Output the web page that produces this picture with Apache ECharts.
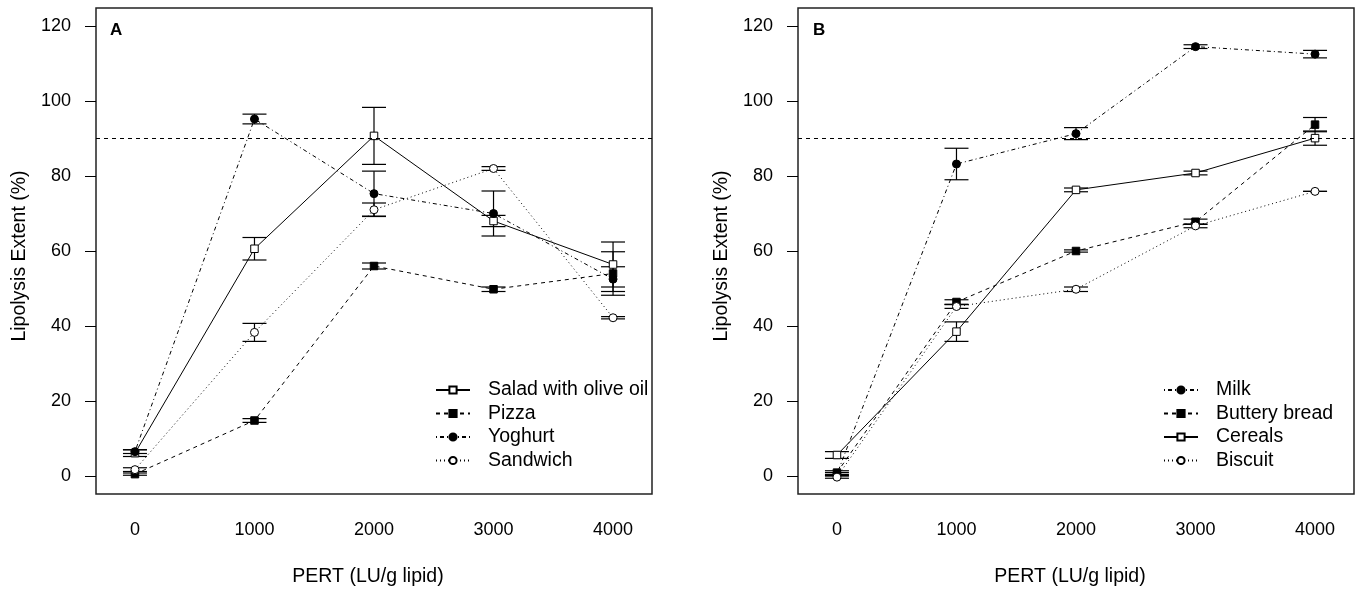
<!DOCTYPE html>
<html>
<head>
<meta charset="utf-8">
<script src="https://cdn.jsdelivr.net/npm/echarts@6/dist/echarts.min.js"></script>
<style>
html,body{margin:0;padding:0;background:#fff;}
#chart{width:1357px;height:592px;}
</style>
</head>
<body>
<div id="chart"></div>
<script>
// ---------- data ----------
const pertLevels = [0, 1000, 2000, 3000, 4000];
const xTickLabels = [0, 1000, 2000, 3000, 4000];
const yTickLabels = [0, 20, 40, 60, 80, 100, 120];
const thresholdLine = 90;

// Panel A
const saladA = [6.1, 60.6, 90.7, 68.0, 56.4];
const saladAErr = [0.9, 3.0, 7.6, 1.5, 6.0];
const pizzaA = [0.5, 14.8, 56.0, 49.8, 54.0];
const pizzaAErr = [0.3, 0.5, 0.8, 0.6, 5.8];
const yoghurtA = [6.5, 95.2, 75.3, 70.0, 52.5];
const yoghurtAErr = [0.5, 1.3, 6.0, 6.0, 3.3];
const sandwichA = [1.7, 38.3, 71.0, 82.0, 42.2];
const sandwichAErr = [0.5, 2.4, 1.8, 0.5, 0.3];

// Panel B
const milkB = [0.5, 83.2, 91.3, 114.5, 112.5];
const milkBErr = [0.4, 4.2, 1.6, 0.5, 1.0];
const butteryB = [0.9, 46.4, 60.0, 67.8, 93.7];
const butteryBErr = [0.5, 0.6, 0.3, 0.7, 1.9];
const cerealsB = [5.6, 38.5, 76.3, 80.8, 90.1];
const cerealsBErr = [0.9, 2.6, 0.5, 0.5, 1.9];
const biscuitB = [-0.3, 45.2, 49.8, 66.7, 75.9];
const biscuitBErr = [0.3, 0.5, 0.6, 0.5, 0.0];

// ---------- helpers ----------
const FONT = 'Liberation Sans';
const STYLE = {
  solid:  'solid',
  dashed: [4, 4],
  dotdash:[1, 3, 4, 3],
  dotted: [1, 3]
};
function pts(vals) { return vals.map((v, i) => [pertLevels[i], v]); }
function errData(vals, errs) {
  return vals.map((v, i) => [pertLevels[i], v - errs[i], v + errs[i]]);
}
function lineSeries(name, vals, idx, symbol, filled, dash, size, extra) {
  return Object.assign({
    name: name,
    type: 'line',
    xAxisIndex: idx, yAxisIndex: idx,
    data: pts(vals),
    symbol: symbol,
    symbolSize: size,
    showAllSymbol: true,
    z: 3,
    lineStyle: { color: '#000', width: 1, type: dash },
    itemStyle: { color: filled ? '#000' : '#fff', borderColor: '#000', borderWidth: 1 },
    emphasis: { disabled: true }
  }, extra || {});
}
function errSeries(idx, list) {
  let data = [];
  list.forEach(p => { data = data.concat(errData(p[0], p[1])); });
  return {
    type: 'custom',
    xAxisIndex: idx, yAxisIndex: idx,
    z: 1,
    silent: true,
    data: data,
    renderItem: function (params, api) {
      const x = api.value(0);
      const lo = api.coord([x, api.value(1)]);
      const hi = api.coord([x, api.value(2)]);
      const hw = 12;
      const st = { stroke: '#000', lineWidth: 1.2, fill: null };
      return {
        type: 'group',
        children: [
          { type: 'line', shape: { x1: lo[0], y1: lo[1], x2: hi[0], y2: hi[1] }, style: st },
          { type: 'line', shape: { x1: lo[0] - hw, y1: lo[1], x2: lo[0] + hw, y2: lo[1] }, style: st },
          { type: 'line', shape: { x1: hi[0] - hw, y1: hi[1], x2: hi[0] + hw, y2: hi[1] }, style: st }
        ]
      };
    }
  };
}
const refLine = {
  silent: true, symbol: 'none', label: { show: false },
  lineStyle: { color: '#000', width: 1, type: [4, 4] },
  data: [{ yAxis: thresholdLine }]
};
function xAxis(idx) {
  return {
    type: 'value', gridIndex: idx, min: -326, max: 4326, position: 'bottom',
    name: 'PERT (LU/g lipid)', nameLocation: 'middle', nameGap: 73,
    nameTextStyle: { fontFamily: FONT, fontSize: 19.5, color: '#000', padding: [0, 12, 0, 0] },
    axisLine: { show: false, onZero: false }, axisTick: { show: false }, splitLine: { show: false },
    axisLabel: { customValues: xTickLabels, margin: 27, fontFamily: FONT, fontSize: 18, color: '#000',
                 formatter: v => String(v) }
  };
}
function yAxis(idx) {
  return {
    type: 'value', gridIndex: idx, min: -4.8, max: 124.8, position: 'left',
    name: 'Lipolysis Extent (%)', nameLocation: 'middle', nameGap: 66,
    nameTextStyle: { fontFamily: FONT, fontSize: 19.5, color: '#000', padding: [0, 10, 0, 0] },
    axisLine: { show: false, onZero: false }, splitLine: { show: false },
    axisTick: { show: true, customValues: yTickLabels, length: 11, lineStyle: { color: '#000', width: 1 } },
    axisLabel: { customValues: yTickLabels, margin: 25, fontFamily: FONT, fontSize: 18, color: '#000',
                 formatter: v => String(v) }
  };
}
function legend(left, names) {
  return {
    orient: 'vertical', left: left, top: 380, padding: 0,
    data: names,
    itemWidth: 34, itemHeight: 9, itemGap: 3.5,
    selectedMode: false,
    textStyle: { fontFamily: FONT, fontSize: 19.5, color: '#000', padding: [0, 0, 0, 13] }
  };
}

const option = {
  animation: false,
  backgroundColor: '#fff',
  title: [
    { text: 'A', left: 110, top: 22, padding: 0, textStyle: { fontFamily: FONT, fontSize: 17, fontWeight: 'bold', color: '#000' } },
    { text: 'B', left: 813, top: 22, padding: 0, textStyle: { fontFamily: FONT, fontSize: 17, fontWeight: 'bold', color: '#000' } }
  ],
  grid: [
    { left: 96, top: 8, width: 556, height: 488, show: true, borderColor: '#222', borderWidth: 1.5, backgroundColor: 'transparent' },
    { left: 798, top: 8, width: 556, height: 488, show: true, borderColor: '#222', borderWidth: 1.5, backgroundColor: 'transparent' }
  ],
  xAxis: [xAxis(0), xAxis(1)],
  yAxis: [yAxis(0), yAxis(1)],
  legend: [
    legend(435, ['Salad with olive oil', 'Pizza', 'Yoghurt', 'Sandwich']),
    legend(1163, ['Milk', 'Buttery bread', 'Cereals', 'Biscuit'])
  ],
  series: [
    errSeries(0, [[saladA, saladAErr], [pizzaA, pizzaAErr], [yoghurtA, yoghurtAErr], [sandwichA, sandwichAErr]]),
    lineSeries('Salad with olive oil', saladA, 0, 'rect', false, STYLE.solid, 7.5, { markLine: refLine }),
    lineSeries('Pizza', pizzaA, 0, 'rect', true, STYLE.dashed, 7.5),
    lineSeries('Yoghurt', yoghurtA, 0, 'circle', true, STYLE.dotdash, 8),
    lineSeries('Sandwich', sandwichA, 0, 'circle', false, STYLE.dotted, 8),

    errSeries(1, [[milkB, milkBErr], [butteryB, butteryBErr], [cerealsB, cerealsBErr], [biscuitB, biscuitBErr]]),
    lineSeries('Milk', milkB, 1, 'circle', true, STYLE.dotdash, 8, { markLine: refLine }),
    lineSeries('Buttery bread', butteryB, 1, 'rect', true, STYLE.dashed, 7.5),
    lineSeries('Cereals', cerealsB, 1, 'rect', false, STYLE.solid, 7.5),
    lineSeries('Biscuit', biscuitB, 1, 'circle', false, STYLE.dotted, 8)
  ]
};
const chart = echarts.init(document.getElementById('chart'), null, { renderer: 'canvas' });
chart.setOption(option);
</script>
</body>
</html>
